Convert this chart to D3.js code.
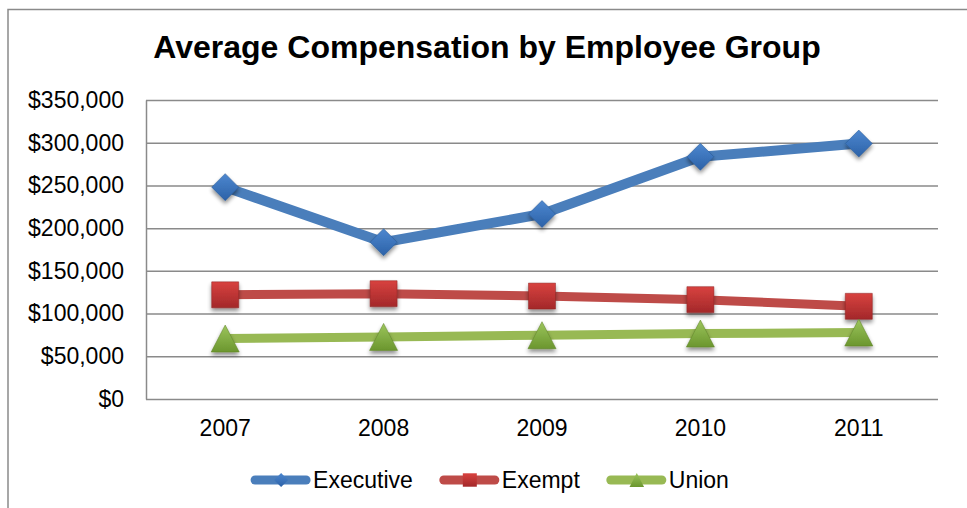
<!DOCTYPE html>
<html>
<head>
<meta charset="utf-8">
<script src="https://cdn.jsdelivr.net/npm/d3@7"></script>
<style>
  body { margin: 0; background: #fff; }
  svg { display: block; font-family: "Liberation Sans", Arial, sans-serif; }
  .grid line { stroke: #8a8a8a; stroke-width: 1.5; }
  .grid .domain { stroke: #8a8a8a; stroke-width: 1.5; }
  .tick text { font-size: 23px; fill: #000; }
</style>
</head>
<body>
<div id="chart"></div>
<script>
(function () {
  // data
  var years = ["2007", "2008", "2009", "2010", "2011"];
  var executive = [248000, 183500, 216500, 283500, 299000];
  var exempt = [122000, 123300, 120500, 116300, 108500];
  var union = [70800, 72700, 74700, 76600, 77800];
  var yTicks = [0, 50000, 100000, 150000, 200000, 250000, 300000, 350000];
  var seriesNames = ["Executive", "Exempt", "Union"];

  var W = 967, H = 508;
  var plot = {left: 146, right: 938, top: 100, bottom: 399};

  var series = [
    {name: seriesNames[0], values: executive, line: "#4a7ebb", width: 10, shape: "diamond", c1: "#4d87cf", c2: "#2c62a8"},
    {name: seriesNames[1], values: exempt, line: "#be4b48", width: 9, shape: "square", c1: "#d8423f", c2: "#a3282a"},
    {name: seriesNames[2], values: union, line: "#98b954", width: 9, shape: "triangle", c1: "#9cc55c", c2: "#6b962e"}
  ];

  var svg = d3.select("#chart").append("svg")
      .attr("width", W)
      .attr("height", H);

  var defs = svg.append("defs");

  // soft shadow under markers, like the spreadsheet default
  var f = defs.append("filter").attr("id", "shadow")
      .attr("x", "-50%").attr("y", "-50%").attr("width", "200%").attr("height", "200%");
  f.append("feGaussianBlur").attr("in", "SourceAlpha").attr("stdDeviation", 2.2).attr("result", "b");
  f.append("feOffset").attr("in", "b").attr("dx", 0).attr("dy", 3).attr("result", "o");
  f.append("feComponentTransfer").attr("in", "o").attr("result", "s")
    .append("feFuncA").attr("type", "linear").attr("slope", 0.45);
  var m = f.append("feMerge");
  m.append("feMergeNode").attr("in", "s");
  m.append("feMergeNode").attr("in", "SourceGraphic");

  series.forEach(function(s, i) {
    var g = defs.append("linearGradient").attr("id", "grad" + i)
        .attr("x1", 0).attr("y1", 0).attr("x2", 0).attr("y2", 1);
    g.append("stop").attr("offset", "0%").attr("stop-color", s.c1);
    g.append("stop").attr("offset", "100%").attr("stop-color", s.c2);
  });

  // chart frame (left and top edges visible)
  svg.append("path")
      .attr("d", "M8," + H + "V9.5H" + W)
      .attr("fill", "none")
      .attr("stroke", "#8a8a8a")
      .attr("stroke-width", 1.5);

  // title
  svg.append("text")
      .attr("x", 487)
      .attr("y", 58)
      .attr("text-anchor", "middle")
      .attr("font-size", 32)
      .attr("font-weight", "bold")
      .text("Average Compensation by Employee Group");

  // scales
  var x = d3.scaleBand().domain(years).range([plot.left, plot.right]);
  var y = d3.scaleLinear().domain([0, 350000]).range([plot.bottom, plot.top]);

  // y axis with gridlines
  var yAxis = svg.append("g")
      .attr("class", "grid")
      .attr("transform", "translate(" + plot.left + ",0)")
      .call(d3.axisLeft(y)
        .tickValues(yTicks)
        .tickSizeInner(-(plot.right - plot.left))
        .tickSizeOuter(0)
        .tickPadding(22)
        .tickFormat(function(d) { return "$" + d3.format(",")(d); }));

  // x axis labels
  svg.append("g")
      .attr("class", "grid")
      .attr("transform", "translate(0," + plot.bottom + ")")
      .call(d3.axisBottom(x).tickSize(0).tickPadding(21))
    .select(".domain").remove();

  var line = d3.line()
      .x(function(d, i) { return x(years[i]) + x.bandwidth() / 2; })
      .y(function(d) { return y(d); });

  function markerPath(shape, r) {
    if (shape === "diamond") return "M0," + (-r) + "L" + r + ",0L0," + r + "L" + (-r) + ",0Z";
    if (shape === "square") return "M" + (-r) + "," + (-r * 0.96) + "H" + r + "V" + (r * 0.96) + "H" + (-r) + "Z";
    return "M0," + (-r) + "L" + (r * 1.04) + "," + r + "H" + (-r * 1.04) + "Z";
  }

  series.forEach(function(s, i) {
    svg.append("path")
        .datum(s.values)
        .attr("fill", "none")
        .attr("stroke", s.line)
        .attr("stroke-width", s.width)
        .attr("stroke-linejoin", "round")
        .attr("d", line);

    svg.selectAll(".mk" + i)
        .data(s.values)
        .enter().append("path")
        .attr("class", "mk" + i)
        .attr("transform", function(d, j) {
          return "translate(" + (x(years[j]) + x.bandwidth() / 2) + "," + y(d) + ")";
        })
        .attr("d", markerPath(s.shape, 13.5))
        .attr("fill", "url(#grad" + i + ")")
        .attr("stroke", d3.color(s.c2).darker(0.4))
        .attr("stroke-opacity", 0.5)
        .attr("stroke-width", 1)
        .attr("filter", "url(#shadow)");
  });

  // legend
  var legend = svg.append("g");
  var lx = 0;
  series.forEach(function(s, i) {
    var item = legend.append("g").attr("transform", "translate(" + lx + ",0)");
    item.append("line")
        .attr("x1", 4).attr("x2", 55)
        .attr("stroke", s.line)
        .attr("stroke-width", 9)
        .attr("stroke-linecap", "round");
    item.append("path")
        .attr("transform", "translate(30,0)")
        .attr("d", markerPath(s.shape, 7))
        .attr("fill", "url(#grad" + i + ")");
    var t = item.append("text")
        .attr("x", 62)
        .attr("dy", "0.35em")
        .attr("font-size", 23)
        .text(s.name);
    lx += 62 + t.node().getComputedTextLength() + 27;
  });
  var lw = lx - 27;
  legend.attr("transform", "translate(" + (490 - lw / 2) + ",480)");
})();
</script>
</body>
</html>
